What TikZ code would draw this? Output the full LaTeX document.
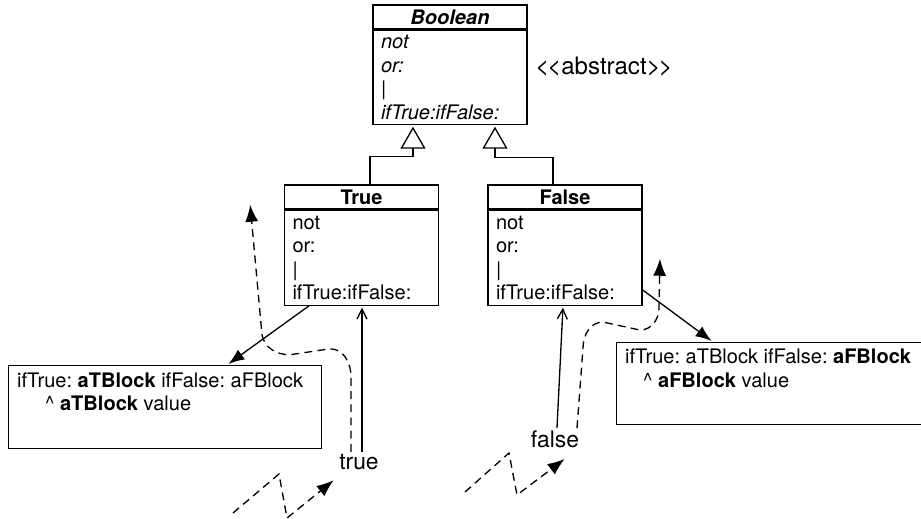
\documentclass[tikz,border=0pt]{standalone}
\usepackage{fontspec}
\setmainfont{TeX Gyre Heros}
\usetikzlibrary{arrows.meta}

\begin{document}
\frenchspacing
\begin{tikzpicture}[shorten >=1pt,x=0.02cm,y=0.02cm,line width=0.75pt]
        \tikzstyle{head}=[draw,minimum width=3.08cm,minimum height=0.48cm,inner sep=0pt,font=\fontsize{11.4}{13.4}\selectfont\bfseries]
        \tikzstyle{body}=[draw,anchor=north,minimum width=3.08cm,minimum height=1.9cm,text width=2.76cm,inner xsep=0.16cm,inner ysep=2pt,align=left,font=\fontsize{11.4}{13.4}\selectfont]
        \tikzstyle{block}=[draw,anchor=north west,minimum height=1.66cm,inner xsep=0.17cm,inner ysep=3pt,align=flush left,font=\fontsize{11.4}{13.4}\selectfont]
        \tikzstyle{lbl}=[inner sep=1pt,font=\fontsize{13}{15}\selectfont]
        \tikzstyle{inherit}=[draw,-{Triangle[open,length=0.44cm,width=0.5cm]}]
        \tikzstyle{send}=[draw,-{Straight Barb[length=0.2cm,width=0.2cm]}]
        \tikzstyle{call}=[draw,-{Latex[length=0.32cm,width=0.24cm]}]
        \tikzstyle{flow}=[draw,dash pattern=on 4.5pt off 3pt,-{Latex[length=0.34cm,width=0.26cm]}]
        \useasboundingbox (0,0) rectangle (921,-519);
       \begin{scope}
         \node [head,font=\fontsize{11.4}{13.4}\selectfont\bfseries\itshape] (boolHead) at (450,-17) {Boolean};
         \node [body,minimum height=1.88cm,font=\fontsize{11.4}{13.4}\selectfont\itshape] (boolBody) at (boolHead.south) {not\\or:\\|\\ifTrue:ifFalse:};
         \node [font=\fontsize{13.7}{16}\selectfont] (abstr) at (604,-67) {<\kern-1.2pt<abstract>\kern-1.2pt>};
         \node [head] (truHead) at (361.5,-197) {True};
         \node [body] (truBody) at (truHead.south) {not\\or:\\|\\ifTrue:ifFalse:};
         \node [head] (falHead) at (565,-197) {False};
         \node [body] (falBody) at (falHead.south) {not\\or:\\|\\ifTrue:ifFalse:};
         \node [block,text width=5.92cm] (tBlock) at (8,-365) {ifTrue: \textbf{aTBlock} ifFalse: aFBlock\\\hspace*{0.56cm}\textasciicircum\ \textbf{aTBlock} value\\\strut};
         \node [block,text width=6.3cm,minimum height=1.64cm] (fBlock) at (616,-342) {ifTrue: aTBlock ifFalse: \textbf{aFBlock}\\\hspace*{0.36cm}\textasciicircum\ \textbf{aFBlock} value\\\strut};
         \node [lbl] (trueLbl) at (359,-462) {true};
         \node [lbl] (falLbl) at (555,-439) {false};
         \coordinate (tTop) at (250,-203);
         \coordinate (fTop) at (660,-257);
         \path[inherit] ([xshift=0.17cm]truHead.north) -- ++(0,28) -| ([xshift=-0.74cm]boolBody.south);
         \path[inherit] ([xshift=-0.24cm]falHead.north) -- ++(0,27) -| ([xshift=0.9cm]boolBody.south);
         \path[send] ([xshift=0.06cm]trueLbl.north) -- ([xshift=0.06cm]trueLbl.north |- truBody.south);
         \path[send] ([xshift=0.04cm]falLbl.north) -- ([xshift=-0.04cm]falBody.south);
         \path[call] ([xshift=0.5cm]truBody.south west) -- ([xshift=4.38cm]tBlock.north west);
         \path[call] ([yshift=0.32cm]falBody.south east) -- ([xshift=1.94cm]fBlock.north west);
         \path[flow] ([xshift=-0.16cm]trueLbl.north) -- ++(0,75) to[out=90,in=0] ++(-21,28) -- ++(-40,-6) to[out=180,in=-80] ++(-28,20) -- (tTop);
         \path[flow] ([xshift=0.44cm]falLbl.north) -- ++(6,80) to[out=90,in=180] ++(20,26) -- ++(37,-8) to[out=0,in=-90] ++(19,22) -- (fTop);
         \path[flow] (233,-513) -- (279,-474) -- (287,-518) -- ([shift={(-24,-7)}]trueLbl.south);
         \path[flow] (465,-492) -- (509,-453) -- (517,-495) -- ([shift={(11,-8)}]falLbl.south);
        \end{scope}
      \end{tikzpicture}
\end{document}
